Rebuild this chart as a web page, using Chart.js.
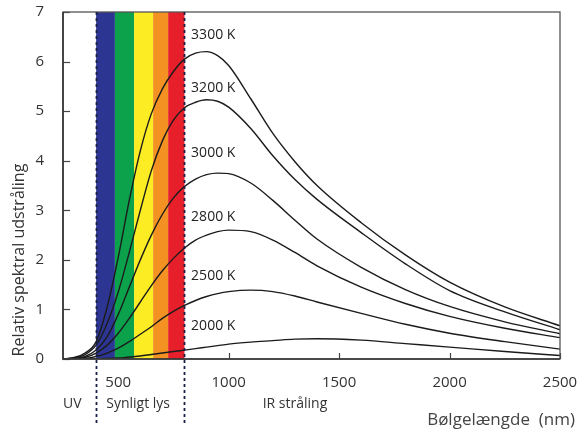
<!DOCTYPE html>
<html>
<head>
<meta charset="utf-8">
<script src="https://cdn.jsdelivr.net/npm/chart.js@4.4.1/dist/chart.umd.min.js"></script>
<style>
  html, body { margin: 0; padding: 0; background: #fff; }
  canvas { display: block; }
</style>
</head>
<body>
<canvas id="planck" width="579" height="432"></canvas>
<script>
// wavelengths in nm
const wavelengths = [250, 300, 350, 400, 450, 500, 550, 600, 650, 700, 750, 800, 850, 900, 950, 1000, 1100, 1200, 1300, 1400, 1600, 1800, 2000, 2250, 2500];

// relative spectral radiation
const k3300 = [0, 0.03, 0.12, 0.35, 1.05, 2.05, 3.2, 4.2, 4.95, 5.45, 5.8, 6.05, 6.17, 6.2, 6.12, 5.92, 5.25, 4.55, 3.98, 3.5, 2.75, 2.1, 1.55, 1.05, 0.67];
const k3200 = [0, 0.02, 0.09, 0.28, 0.72, 1.35, 2.15, 3.0, 3.8, 4.4, 4.82, 5.07, 5.18, 5.23, 5.2, 5.08, 4.65, 4.1, 3.62, 3.22, 2.55, 1.92, 1.38, 0.95, 0.59];
const k3000 = [0, 0.01, 0.05, 0.18, 0.45, 0.9, 1.45, 2.0, 2.5, 2.92, 3.25, 3.48, 3.63, 3.72, 3.75, 3.74, 3.55, 3.2, 2.8, 2.42, 1.85, 1.4, 1.06, 0.75, 0.51];
const k2800 = [0, 0.005, 0.03, 0.12, 0.28, 0.52, 0.82, 1.15, 1.48, 1.78, 2.03, 2.24, 2.4, 2.5, 2.57, 2.6, 2.57, 2.4, 2.15, 1.88, 1.45, 1.12, 0.86, 0.62, 0.43];
const k2500 = [0, 0, 0.01, 0.05, 0.12, 0.22, 0.35, 0.5, 0.65, 0.82, 0.96, 1.08, 1.18, 1.26, 1.32, 1.36, 1.39, 1.36, 1.27, 1.15, 0.92, 0.7, 0.52, 0.35, 0.2];
const k2000 = [0, 0, 0, 0.005, 0.01, 0.02, 0.04, 0.06, 0.09, 0.12, 0.15, 0.18, 0.21, 0.24, 0.27, 0.3, 0.34, 0.37, 0.4, 0.41, 0.38, 0.31, 0.24, 0.15, 0.07];

const curveNames = ['3300 K', '3200 K', '3000 K', '2800 K', '2500 K', '2000 K'];
const curves = [k3300, k3200, k3000, k2800, k2500, k2000];

const xTicks = [500, 1000, 1500, 2000, 2500];
const yTicks = [0, 1, 2, 3, 4, 5, 6, 7];

// visible spectrum bands (nm)
const bandEdges = [400, 485, 572, 658, 726, 800];
const bandColors = ['#2c3592', '#0ca24c', '#fbec24', '#f39223', '#e71f2a'];
const regionNames = ['UV', 'Synligt lys', 'IR stråling'];

const FONT = '"Open Sans", "Noto Sans", sans-serif';
const INK = '#333';

const decor = {
  id: 'decor',
  beforeDatasetsDraw(chart) {
    const { ctx, chartArea: a, scales: { x, y } } = chart;
    ctx.save();
    // tick marks pointing into the plot
    ctx.strokeStyle = '#444';
    ctx.lineWidth = 1.2;
    yTicks.forEach(v => {
      const py = Math.round(y.getPixelForValue(v)) + 0.5;
      ctx.beginPath(); ctx.moveTo(a.left, py); ctx.lineTo(a.left + 7, py); ctx.stroke();
    });
    xTicks.forEach(v => {
      const px = Math.round(x.getPixelForValue(v)) + 0.5;
      ctx.beginPath(); ctx.moveTo(px, a.bottom); ctx.lineTo(px, a.bottom - 6); ctx.stroke();
    });
    // colour bands
    for (let i = 0; i < bandColors.length; i++) {
      const x0 = x.getPixelForValue(bandEdges[i]);
      const x1 = x.getPixelForValue(bandEdges[i + 1]);
      ctx.fillStyle = bandColors[i];
      ctx.fillRect(x0, a.top, x1 - x0, a.bottom - a.top);
    }
    ctx.restore();
  },
  afterDatasetsDraw(chart) {
    const { ctx, chartArea: a, scales: { x, y } } = chart;
    ctx.save();
    // frame
    ctx.strokeStyle = '#555';
    ctx.lineWidth = 1.3;
    ctx.strokeRect(a.left, a.top, a.right - a.left, a.bottom - a.top);
    ctx.strokeStyle = '#333';
    ctx.lineWidth = 1.6;
    ctx.beginPath();
    ctx.moveTo(a.left, a.top); ctx.lineTo(a.left, a.bottom); ctx.lineTo(a.right, a.bottom);
    ctx.stroke();

    // dashed borders of the visible range
    ctx.strokeStyle = '#1a1f45';
    ctx.lineWidth = 1.8;
    ctx.setLineDash([3, 3]);
    [bandEdges[0], bandEdges[bandEdges.length - 1]].forEach(v => {
      const px = Math.round(x.getPixelForValue(v)) + 0.5;
      ctx.beginPath(); ctx.moveTo(px, a.top); ctx.lineTo(px, 424); ctx.stroke();
    });
    ctx.setLineDash([]);

    // curve labels
    ctx.fillStyle = '#222';
    ctx.font = '14px ' + FONT;
    ctx.textAlign = 'left';
    ctx.textBaseline = 'middle';
    const labelY = [6.53, 5.46, 4.15, 2.86, 1.67, 0.67];
    curveNames.forEach((t, i) => {
      ctx.fillText(t, x.getPixelForValue(830), y.getPixelForValue(labelY[i]));
    });

    // region labels under the axis
    ctx.fillStyle = INK;
    ctx.font = '14px ' + FONT;
    ctx.textAlign = 'center';
    const regionX = [292, 590, 1300];
    regionNames.forEach((t, i) => ctx.fillText(t, x.getPixelForValue(regionX[i]), 404));

    // axis titles
    ctx.font = '17px ' + FONT;
    ctx.textAlign = 'right';
    ctx.fillStyle = '#444';
    ctx.fillText('Bølgelængde  (nm)', 575, 420);

    ctx.translate(19, 260);
    ctx.rotate(-Math.PI / 2);
    ctx.textAlign = 'center';
    ctx.font = '16px ' + FONT;
    ctx.fillStyle = INK;
    ctx.fillText('Relativ spektral udstråling', 0, 0);
    ctx.restore();
  }
};

new Chart(document.getElementById('planck'), {
  type: 'line',
  data: {
    datasets: curves.map((vals, i) => ({
      label: curveNames[i],
      data: wavelengths.map((w, j) => ({ x: w, y: vals[j] })),
      borderColor: '#1b1b1b',
      borderWidth: 1.4,
      pointRadius: 0,
      fill: false,
      cubicInterpolationMode: 'monotone'
    }))
  },
  options: {
    responsive: false,
    animation: false,
    devicePixelRatio: 1,
    layout: { padding: { top: 12, right: 19, left: 0, bottom: 0 } },
    plugins: { legend: { display: false }, tooltip: { enabled: false } },
    scales: {
      x: {
        type: 'linear',
        min: 250,
        max: 2500,
        afterBuildTicks: s => { s.ticks = xTicks.map(v => ({ value: v })); },
        afterFit: s => { s.height = 73; s.paddingLeft = 0; s.paddingRight = 0; },
        grid: { display: false },
        border: { display: false },
        ticks: { color: INK, font: { family: FONT, size: 15 }, padding: 7, maxRotation: 0, callback: v => String(v) }
      },
      y: {
        min: 0,
        max: 7,
        afterBuildTicks: s => { s.ticks = yTicks.map(v => ({ value: v })); },
        afterFit: s => { s.width = 63; s.paddingTop = 0; s.paddingBottom = 0; },
        grid: { display: false },
        border: { display: false },
        ticks: { color: INK, font: { family: FONT, size: 15 }, padding: 11 }
      }
    }
  },
  plugins: [decor]
});
</script>
</body>
</html>
